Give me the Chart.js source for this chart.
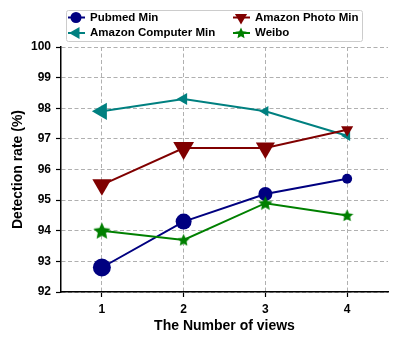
<!DOCTYPE html>
<html>
<head>
<meta charset="utf-8">
<script src="https://cdn.jsdelivr.net/npm/chart.js@4/dist/chart.umd.min.js"></script>
<style>
  body { margin: 0; background: #fff; }
  #wrap { width: 399px; height: 346px; }
</style>
</head>
<body>
<div id="wrap"><canvas id="chart" width="399" height="346"></canvas></div>
<script>
// data
const views = ['1', '2', '3', '4'];
const pubmedMin = [92.8, 94.3, 95.2, 95.7];
const computerMin = [97.9, 98.3, 97.9, 97.1];
const photoMin = [95.5, 96.7, 96.7, 97.3];
const weiboVals = [94.0, 93.7, 94.9, 94.5];
const yMin = 92, yMax = 100, yStep = 1;

const FONT = "'Liberation Sans', Arial, sans-serif";

// filled five point star drawn on a small canvas, used as point style
function makeStar(size, color) {
    const c = document.createElement('canvas');
    c.width = size; c.height = size;
    const g = c.getContext('2d');
    const cx = size / 2, cy = size / 2 + size * 0.04;
    const outer = size / 2, inner = outer * 0.48;
    g.beginPath();
    for (let i = 0; i < 10; i++) {
        const r = i % 2 === 0 ? outer : inner;
        const a = -Math.PI / 2 + i * Math.PI / 5;
        const px = cx + Math.cos(a) * r, py = cy + Math.sin(a) * r;
        if (i === 0) g.moveTo(px, py); else g.lineTo(px, py);
    }
    g.closePath();
    g.fillStyle = color;
    g.fill();
    return c;
}

const green = '#008000';
const weiboStars = [18, 13, 15, 13].map(s => makeStar(s, green));

const datasets = [
    {
        label: 'Pubmed Min', data: pubmedMin, order: 4,
        borderColor: '#000080', backgroundColor: '#000080',
        pointStyle: 'circle', pointRadius: [9, 8, 7, 5], pointRotation: 0,
        legendRadius: 5.5
    },
    {
        label: 'Amazon Computer Min', data: computerMin, order: 3,
        borderColor: '#008080', backgroundColor: '#008080',
        pointStyle: 'triangle', pointRadius: [10, 7, 6, 6], pointRotation: 270,
        legendRadius: 7
    },
    {
        label: 'Amazon Photo Min', data: photoMin, order: 2,
        borderColor: '#800000', backgroundColor: '#800000',
        pointStyle: 'triangle', pointRadius: [11, 12, 11, 7], pointRotation: 180,
        legendRadius: 7
    },
    {
        label: 'Weibo', data: weiboVals, order: 1,
        borderColor: green, backgroundColor: green,
        pointStyle: weiboStars, pointRadius: [9, 7, 8, 7], pointRotation: 0,
        legendStar: makeStar(12, green)
    }
];
datasets.forEach(d => {
    d.borderWidth = 2;
    d.pointBorderWidth = 0;
    d.tension = 0;
    d.fill = false;
});

// two column legend box above the plot
const legendBox = {
    id: 'legendBox',
    afterDraw(chart) {
        const ctx = chart.ctx;
        ctx.save();
        ctx.fillStyle = 'rgba(255,255,255,0.9)';
        ctx.strokeStyle = '#cccccc';
        ctx.lineWidth = 1;
        ctx.beginPath();
        ctx.roundRect(66.5, 10.5, 296, 31, 2);
        ctx.fill();
        ctx.stroke();

        const cols = [76, 241];
        const rows = [17.5, 33];
        datasets.forEach((d, i) => {
            const mx = cols[Math.floor(i / 2)];
            const my = rows[i % 2];
            ctx.strokeStyle = d.borderColor;
            ctx.fillStyle = d.backgroundColor;
            ctx.lineWidth = 2;
            ctx.beginPath();
            ctx.moveTo(mx - 8, my);
            ctx.lineTo(mx + 9, my);
            ctx.stroke();
            if (d.legendStar) {
                ctx.drawImage(d.legendStar, mx - 6, my - 6);
            } else {
                Chart.helpers.drawPoint(ctx, {
                    pointStyle: d.pointStyle, radius: d.legendRadius,
                    rotation: d.pointRotation, borderWidth: 0
                }, mx, my);
            }
            ctx.fillStyle = '#000';
            ctx.font = 'bold 11.5px ' + FONT;
            ctx.textBaseline = 'middle';
            ctx.textAlign = 'left';
            ctx.fillText(d.label, mx + 14, my);
        });
        ctx.restore();
    }
};

const gridOpts = {
    color: '#b0b0b0',
    lineWidth: 1,
    tickColor: '#000',
    tickLength: 5,
    tickWidth: 1.2,
    tickBorderDash: []
};

const ctx = document.getElementById('chart').getContext('2d');
new Chart(ctx, {
    type: 'line',
    data: { labels: views, datasets: datasets },
    plugins: [legendBox],
    options: {
        responsive: false,
        animation: false,
        events: [],
        layout: { padding: { top: 47, right: 10, left: 0, bottom: 0 } },
        plugins: { legend: { display: false }, tooltip: { enabled: false } },
        scales: {
            x: {
                type: 'category',
                offset: true,
                afterFit(scale) { scale.height = 54; },
                grid: Object.assign({ offset: false }, gridOpts),
                border: { display: true, color: '#000', width: 1.5, dash: [4, 2.5] },
                ticks: {
                    color: '#000',
                    padding: 5,
                    font: { family: FONT, size: 12, weight: 'bold' }
                },
                title: {
                    display: true,
                    text: 'The Number of views',
                    color: '#000',
                    padding: { top: 0, bottom: 11 },
                    font: { family: FONT, size: 14, weight: 'bold' }
                }
            },
            y: {
                min: yMin,
                max: yMax,
                afterFit(scale) { scale.width = 61; },
                grid: gridOpts,
                border: { display: true, color: '#000', width: 1.5, dash: [4, 2.5] },
                ticks: {
                    stepSize: yStep,
                    color: '#000',
                    padding: 5,
                    font: { family: FONT, size: 12, weight: 'bold' }
                },
                title: {
                    display: true,
                    text: 'Detection rate (%)',
                    color: '#000',
                    padding: { top: 10, bottom: 0 },
                    font: { family: FONT, size: 14, weight: 'bold' }
                }
            }
        }
    }
});
</script>
</body>
</html>
